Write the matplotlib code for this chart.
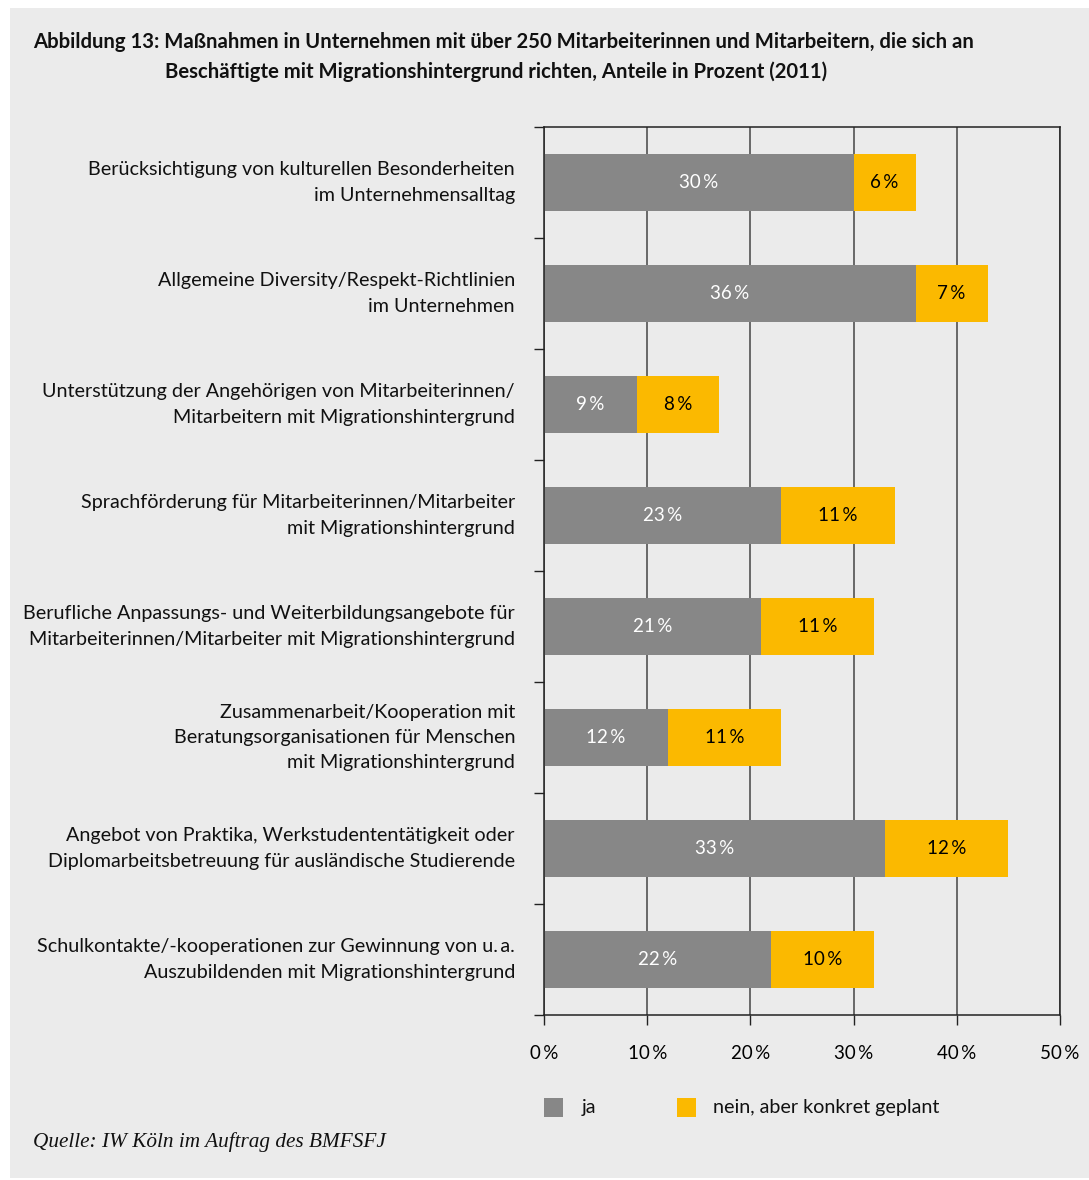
import matplotlib
matplotlib.use("Agg")
import matplotlib.pyplot as plt
from matplotlib.patches import Rectangle

# Kategorien (von oben nach unten) und Anteile in Prozent
categories = [
    "Berücksichtigung von kulturellen Besonderheiten\nim Unternehmensalltag",
    "Allgemeine Diversity/Respekt-Richtlinien\nim Unternehmen",
    "Unterstützung der Angehörigen von Mitarbeiterinnen/\nMitarbeitern mit Migrationshintergrund",
    "Sprachförderung für Mitarbeiterinnen/Mitarbeiter\nmit Migrationshintergrund",
    "Berufliche Anpassungs- und Weiterbildungsangebote für\nMitarbeiterinnen/Mitarbeiter mit Migrationshintergrund",
    "Zusammenarbeit/Kooperation mit\nBeratungsorganisationen für Menschen\nmit Migrationshintergrund",
    "Angebot von Praktika, Werkstudententätigkeit oder\nDiplomarbeitsbetreuung für ausländische Studierende",
    "Schulkontakte/-kooperationen zur Gewinnung von u.\u2009a.\nAuszubildenden mit Migrationshintergrund",
]
ja = [30, 36, 9, 23, 21, 12, 33, 22]
geplant = [6, 7, 8, 11, 11, 11, 12, 10]
series_names = ["ja", "nein, aber konkret geplant"]
x_ticks = [0, 10, 20, 30, 40, 50]
x_ticklabels = ["0\u2009%", "10\u2009%", "20\u2009%", "30\u2009%", "40\u2009%", "50\u2009%"]

title_line1 = "Abbildung 13: Maßnahmen in Unternehmen mit über 250 Mitarbeiterinnen und Mitarbeitern, die sich an"
title_line2 = "Beschäftigte mit Migrationshintergrund richten, Anteile in Prozent (2011)"
source = "Quelle: IW Köln im Auftrag des BMFSFJ"

GRAY = "#878787"
YELLOW = "#fbb900"
BG = "#ebebeb"
FONT = ["Lato", "DejaVu Sans"]

W, H = 1089, 1180
fig = plt.figure(figsize=(W / 100, H / 100), dpi=100, facecolor="white")

# Hintergrundfläche
fig.patches.append(Rectangle((10 / W, 1 - 1178 / H), (W - 10) / W, (1178 - 8) / H,
                             transform=fig.transFigure, facecolor=BG, edgecolor="none", zorder=-10))

ax = fig.add_axes([544 / W, 1 - 1015 / H, (1060 - 544) / W, (1015 - 127) / H])
ax.set_facecolor("none")

n = len(categories)
ypos = [n - 1 - i + 0.5 for i in range(n)]
bar_h = 0.51

ax.barh(ypos, ja, height=bar_h, color=GRAY, zorder=3, label=series_names[0])
ax.barh(ypos, geplant, left=ja, height=bar_h, color=YELLOW, zorder=3, label=series_names[1])

for y, a, b in zip(ypos, ja, geplant):
    ax.text(a / 2, y, f"{a}\u2009%", ha="center", va="center", color="white",
            fontsize=13.5, family=FONT, zorder=4)
    ax.text(a + b / 2, y, f"{b}\u2009%", ha="center", va="center", color="black",
            fontsize=13.5, family=FONT, zorder=4)

ax.set_xlim(0, 50)
ax.set_ylim(0, n)

ax.set_xticks(x_ticks)
ax.set_xticklabels(x_ticklabels, family=FONT, fontsize=13.5)
ax.tick_params(axis="x", direction="out", length=7.5, width=1, color="#222222", pad=14)
ax.set_yticks(range(n + 1))
ax.set_yticklabels([])
ax.tick_params(axis="y", direction="out", length=7.5, width=1, color="#222222")

ax.grid(axis="x", color="#444444", linewidth=1.1, zorder=1)
ax.grid(axis="y", visible=False)
for side in ["left", "bottom", "top", "right"]:
    ax.spines[side].set_color("#222222")
    ax.spines[side].set_linewidth(1.1)
    ax.spines[side].set_zorder(5)

# Kategorienbeschriftung rechtsbündig links vom Diagramm
for y, label in zip(ypos, categories):
    yp = ax.transData.transform((0, y))[1]
    fig.text(515 / W, yp / fig.dpi / fig.get_figheight(), label, ha="right", va="center",
             fontsize=14.2, family=FONT, linespacing=1.6, color="#111111")

# Titel
fig.text(33 / W, 1 - 42 / H, title_line1, ha="left", va="center", fontsize=14.6,
         fontweight="bold", family=FONT, color="#111111")
fig.text(165 / W, 1 - 72 / H, title_line2, ha="left", va="center", fontsize=14.6,
         fontweight="bold", family=FONT, color="#111111")

# Legende
fig.patches.append(Rectangle((544 / W, 1 - 1117 / H), 19 / W, 19 / H, transform=fig.transFigure,
                             facecolor=GRAY, edgecolor="none"))
fig.text(582 / W, 1 - 1107 / H, series_names[0], ha="left", va="center", fontsize=14.2,
         family=FONT, color="#111111")
fig.patches.append(Rectangle((677 / W, 1 - 1117 / H), 19 / W, 19 / H, transform=fig.transFigure,
                             facecolor=YELLOW, edgecolor="none"))
fig.text(713 / W, 1 - 1107 / H, series_names[1], ha="left", va="center", fontsize=14.2,
         family=FONT, color="#111111")

# Quelle
fig.text(33 / W, 1 - 1142 / H, source, ha="left", va="center", fontsize=15.3,
         family=["Liberation Serif", "DejaVu Serif"], style="italic", color="#111111")

fig.savefig("out.png", dpi=100, facecolor="white")
